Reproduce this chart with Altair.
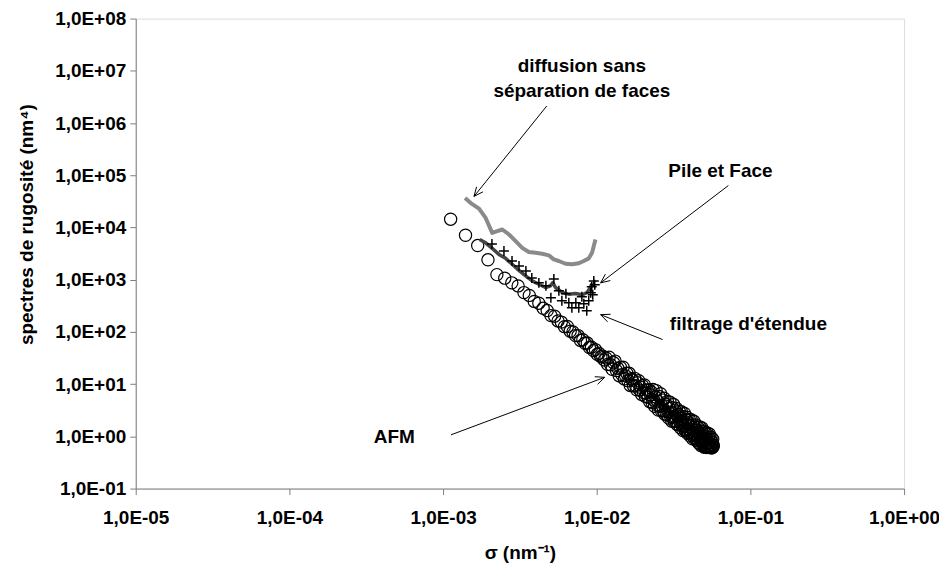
import math
import altair as alt
import pandas as pd

# ---------------- data ----------------
afm_x = [0.00112, 0.0014, 0.00168, 0.00196, 0.00224, 0.00252, 0.0028, 0.00308, 0.00336, 0.00364,
         0.00392, 0.0042, 0.00448, 0.00476, 0.00504, 0.00532, 0.0056, 0.00588, 0.00616, 0.00644,
         0.00672, 0.007, 0.00728, 0.00756, 0.00784, 0.00812, 0.0084, 0.00868, 0.00896, 0.00924,
         0.00952, 0.0098, 0.01008, 0.01036, 0.01064, 0.01092, 0.0112,
         0.01148, 0.01176, 0.01204, 0.01232, 0.0126, 0.01288, 0.01316, 0.01344, 0.01372, 0.014,
         0.01428, 0.01456, 0.01484, 0.01512, 0.0154, 0.01568, 0.01596, 0.01624, 0.01652, 0.0168,
         0.01708, 0.01736, 0.01764, 0.01792, 0.0182, 0.01848, 0.01876, 0.01904, 0.01932, 0.0196,
         0.01988, 0.02016, 0.02044, 0.02072, 0.021, 0.02128, 0.02156, 0.02184, 0.02212, 0.0224,
         0.02268, 0.02296, 0.02324, 0.02352, 0.0238, 0.02408, 0.02436, 0.02464, 0.02492, 0.0252,
         0.02548, 0.02576, 0.02604, 0.02632, 0.0266, 0.02688, 0.02716, 0.02744, 0.02772, 0.028,
         0.02828, 0.02856, 0.02884, 0.02912, 0.0294, 0.02968, 0.02996, 0.03024, 0.03052, 0.0308,
         0.03108, 0.03136, 0.03164, 0.03192, 0.0322, 0.03248, 0.03276, 0.03304, 0.03332, 0.0336,
         0.03388, 0.03416, 0.03444, 0.03472, 0.035, 0.03528, 0.03556, 0.03584, 0.03612, 0.0364,
         0.03668, 0.03696, 0.03724, 0.03752, 0.0378, 0.03808, 0.03836, 0.03864, 0.03892, 0.0392,
         0.03948, 0.03976, 0.04004, 0.04032, 0.0406, 0.04088, 0.04116, 0.04144, 0.04172, 0.042,
         0.04228, 0.04256, 0.04284, 0.04312, 0.0434, 0.04368, 0.04396, 0.04424, 0.04452, 0.0448,
         0.04508, 0.04536, 0.04564, 0.04592, 0.0462, 0.04648, 0.04676, 0.04704, 0.04732, 0.0476,
         0.04788, 0.04816, 0.04844, 0.04872, 0.049, 0.04928, 0.04956, 0.04984, 0.05012, 0.0504,
         0.05068, 0.05096, 0.05124, 0.05152, 0.0518, 0.05208, 0.05236, 0.05264, 0.05292, 0.0532,
         0.05348, 0.05376, 0.05404, 0.05432, 0.0546, 0.05488, 0.05516, 0.05544, 0.05572, 0.056,
         0.05628, 0.05656, 0.05684, 0.05712, 0.0574]
afm_y = [14400, 7100, 4500, 2400, 1250, 1070, 870, 760, 566, 500,
         384, 355, 283, 257, 205, 200, 162, 154, 126, 127,
         103, 100, 85, 85, 68.8, 70.7, 60.5, 61.1, 50.2, 50.8,
         43.8, 45.8, 37.2, 38.8, 33.5, 34.4, 29.0,
         31.7, 23.9, 32.8, 23.5, 19.2, 25.6, 27.6, 18.2, 20.1, 14.5,
         20.8, 15.2, 21.1, 12.6, 14.4, 16.2, 11.6, 16.1, 9.44, 12.7,
         12.0, 9.24, 12.9, 9.36, 7.81, 10.6, 11.6, 7.74, 8.67, 6.36,
         9.30, 6.88, 9.66, 5.82, 6.75, 7.67, 5.59, 7.79, 4.61, 6.26,
         7.05, 4.47, 7.92, 4.96, 3.76, 5.71, 7.51, 3.98, 4.73, 3.18,
         5.79, 3.77, 6.56, 3.12, 3.85, 4.94, 3.07, 5.37, 2.66, 3.82,
         4.11, 2.62, 4.67, 2.94, 2.24, 3.43, 4.52, 2.41, 2.88, 1.95,
         3.55, 2.32, 4.06, 1.94, 2.40, 3.11, 1.94, 3.41, 1.69, 2.44,
         2.63, 1.68, 3.01, 1.91, 1.46, 2.23, 2.97, 1.59, 1.90, 1.29,
         2.37, 1.56, 2.74, 1.31, 1.63, 2.10, 1.32, 2.32, 1.15, 1.68,
         1.82, 1.17, 2.09, 1.33, 1.01, 1.56, 2.08, 1.12, 1.34, 0.90,
         1.66, 1.09, 1.94, 0.93, 1.16, 1.50, 0.94, 1.66, 0.83, 1.20,
         1.30, 0.84, 1.50, 0.96, 0.74, 1.15, 1.52, 0.82, 0.99, 0.67,
         1.24, 0.82, 1.45, 0.69, 0.86, 1.12, 0.70, 1.25, 0.62, 0.90,
         0.98, 0.63, 1.15, 0.73, 0.61, 0.87, 1.16, 0.62, 0.75, 0.64,
         0.94, 0.63, 1.11, 0.64, 0.66, 0.86, 0.62, 0.96, 0.60, 0.71,
         0.77, 0.61, 0.88, 0.63, 0.67]

pile_x = [0.00208, 0.00249, 0.00281, 0.00312, 0.00346, 0.00378, 0.0042, 0.00467, 0.00503,
          0.00526, 0.00567, 0.00593, 0.0063, 0.00658, 0.00689, 0.00731, 0.00764, 0.008,
          0.00824, 0.00861, 0.00887, 0.00914, 0.00928, 0.00957, 0.00971, 0.00942]
pile_y = [4800, 3530, 2280, 1830, 1470, 1080, 869, 762, 451,
          1030, 612, 395, 537, 362, 291, 362, 291, 471,
          347, 255, 395, 561, 729, 948, 796, 514]

filt_x = [0.00173, 0.001893, 0.002089, 0.002311, 0.002553, 0.002818, 0.003117, 0.003445,
          0.003805, 0.004202, 0.004645, 0.005003, 0.00518, 0.00539, 0.00596, 0.00658,
          0.00727, 0.00803, 0.00865, 0.0091, 0.00935]
filt_y = [5890, 5080, 3970, 3050, 2560, 1970, 1510, 1180,
          948, 819, 708, 762, 881, 708, 569, 528,
          545, 513, 569, 708, 850]

diff_x = [0.00139, 0.001514, 0.001714, 0.001893, 0.002089, 0.002253, 0.002428, 0.002684,
          0.002967, 0.003273, 0.003617, 0.003997, 0.004415, 0.00488, 0.005255, 0.005667,
          0.006262, 0.006918, 0.007644, 0.008235, 0.008878, 0.009317, 0.009814]
diff_y = [36500, 29300, 22900, 15200, 7870, 8470, 9140, 7330,
          5470, 4070, 3380, 3270, 3130, 2920, 2450, 2280,
          2020, 1970, 2060, 2280, 2560, 3270, 5890]

x_ticks = [1e-5, 1e-4, 1e-3, 1e-2, 1e-1, 1]
y_ticks = [1e-1, 1, 10, 100, 1e3, 1e4, 1e5, 1e6, 1e7, 1e8]

ann_text = ["diffusion sans", "séparation de faces", "Pile et Face", "filtrage d'étendue", "AFM"]
ann_x = [0.0080, 0.0080, 0.0638, 0.0970, 0.000481]
ann_y = [1.22e7, 4.08e6, 1.23e5, 144, 0.977]

arrow_tail_x = [0.00473, 0.0719, 0.0268, 0.001127]
arrow_tail_y = [2.12e6, 6.35e4, 71.4, 1.07]
arrow_tip_x = [0.00159, 0.0106, 0.0106, 0.01127]
arrow_tip_y = [3.93e4, 869, 214, 13.5]

# ---------------- layout ----------------
W, H = 770, 471
X_DOM = [1e-5, 1]
Y_DOM = [1e-1, 1e8]
FONT = "Liberation Sans"
FS = 19

ppd_x = W / (math.log10(X_DOM[1]) - math.log10(X_DOM[0]))
ppd_y = H / (math.log10(Y_DOM[1]) - math.log10(Y_DOM[0]))

# arrow shafts and open heads (heads built at the tip in screen proportions)
segs = []
HEAD_LEN, HEAD_ANG = 10.0, math.radians(24)
for tx, ty, hx, hy in zip(arrow_tail_x, arrow_tail_y, arrow_tip_x, arrow_tip_y):
    segs.append({"x": tx, "y": ty, "x2": hx, "y2": hy})
    dx = (math.log10(tx) - math.log10(hx)) * ppd_x
    dy = -(math.log10(ty) - math.log10(hy)) * ppd_y
    n = math.hypot(dx, dy)
    ux, uy = dx / n, dy / n
    for s in (1, -1):
        c, sn = math.cos(s * HEAD_ANG), math.sin(s * HEAD_ANG)
        wx = (ux * c - uy * sn) * HEAD_LEN
        wy = (ux * sn + uy * c) * HEAD_LEN
        segs.append({
            "x": hx, "y": hy,
            "x2": 10 ** (math.log10(hx) + wx / ppd_x),
            "y2": 10 ** (math.log10(hy) - wy / ppd_y),
        })

afm = pd.DataFrame({"x": afm_x, "y": afm_y})
pile = pd.DataFrame({"x": pile_x, "y": pile_y})
filt = pd.DataFrame({"x": filt_x, "y": filt_y, "i": range(len(filt_x))})
diff = pd.DataFrame({"x": diff_x, "y": diff_y, "i": range(len(diff_x))})
ann = pd.DataFrame({"t": ann_text, "x": ann_x, "y": ann_y})
arr = pd.DataFrame(segs)

xs = alt.Scale(type="log", domain=X_DOM, nice=False)
ys = alt.Scale(type="log", domain=Y_DOM, nice=False)

def lab(v):
    e = f"round(log({v})/LN10)"
    return f"'1,0E' + ({e} < 0 ? '-' : '+') + (abs({e}) < 10 ? '0' : '') + abs({e})"

x_axis = alt.Axis(
    values=x_ticks, labelExpr=lab("datum.value"), title="σ (nm⁻¹)", grid=False,
    domainColor="#808080", tickColor="#808080", tickSize=6, labelPadding=14,
    labelFont=FONT, labelFontSize=FS, labelFontWeight="bold", labelColor="black",
    labelFlush=False, labelOverlap=False,
    titleFont=FONT, titleFontSize=FS, titleFontWeight="bold", titleColor="black",
    titleY=70, titleBaseline="alphabetic",
)
y_axis = alt.Axis(
    values=y_ticks, labelExpr=lab("datum.value"), title="spectres de rugosité (nm⁴)", grid=False,
    domainColor="#808080", tickColor="#808080", tickSize=6, labelPadding=4,
    labelFont=FONT, labelFontSize=FS, labelFontWeight="bold", labelColor="black",
    labelFlush=False, labelOverlap=False,
    titleFont=FONT, titleFontSize=FS, titleFontWeight="bold", titleColor="black",
    titleAngle=270, titleX=-103, titleY=206, titleAlign="center", titleBaseline="alphabetic",
)

base_x = alt.X("x:Q", scale=xs, axis=x_axis)
base_y = alt.Y("y:Q", scale=ys, axis=y_axis)

circles = alt.Chart(afm).mark_point(
    shape="circle", filled=False, size=150, stroke="black", strokeWidth=1.2, opacity=1
).encode(x=base_x, y=base_y)

diff_line = alt.Chart(diff).mark_line(color="#8a8a8a", strokeWidth=4, strokeJoin="round").encode(
    x=alt.X("x:Q", scale=xs), y=alt.Y("y:Q", scale=ys), order="i:Q")

filt_line = alt.Chart(filt).mark_line(color="#454545", strokeWidth=3.5, strokeJoin="round").encode(
    x=alt.X("x:Q", scale=xs), y=alt.Y("y:Q", scale=ys), order="i:Q")

pluses = alt.Chart(pile).mark_point(
    shape="M-1,0L1,0M0,-1L0,1", filled=False, size=100, stroke="black", strokeWidth=1.5, opacity=1
).encode(x=alt.X("x:Q", scale=xs), y=alt.Y("y:Q", scale=ys))

arrows = alt.Chart(arr).mark_rule(color="black", strokeWidth=1).encode(
    x=alt.X("x:Q", scale=xs), y=alt.Y("y:Q", scale=ys), x2="x2:Q", y2="y2:Q")

texts = alt.Chart(ann).mark_text(
    font=FONT, fontSize=FS, fontWeight="bold", color="black", align="center", baseline="middle"
).encode(x=alt.X("x:Q", scale=xs), y=alt.Y("y:Q", scale=ys), text="t:N")

chart = alt.layer(circles, diff_line, filt_line, pluses, arrows, texts).properties(
    width=W, height=H,
    autosize=alt.AutoSizeParams(type="none"),
    padding={"left": 128, "top": 10, "right": 35, "bottom": 76},
).configure_view(stroke=None).configure(background="white")

chart.save("out.html", embed_options={"renderer": "svg", "actions": False})
